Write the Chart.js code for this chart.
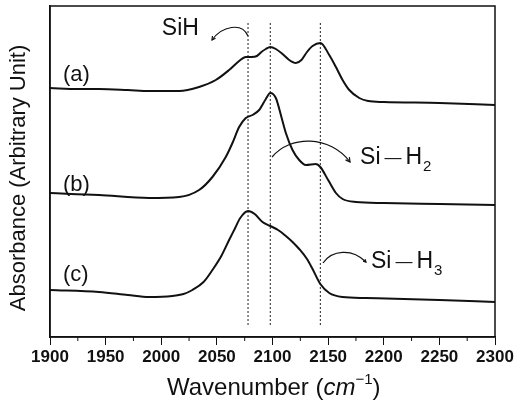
<!DOCTYPE html>
<html><head><meta charset="utf-8">
<script src="https://cdn.jsdelivr.net/npm/chart.js@4.4.0/dist/chart.umd.min.js"></script>
<style>html,body{margin:0;padding:0;background:#fff;}#wrap{width:518px;height:405px;position:relative;}</style>
</head><body><div id="wrap"><canvas id="c"></canvas></div>
<script>
// ---- data (wavenumber in cm^-1, absorbance in arbitrary units, curves offset) ----
const waveA = [1900,1925,1944,1970,1989,2016,2034,2049,2061,2070,2076,2081,2086,2090,2094,2098,2103,2109,2115,2121,2126,2131,2136,2143,2151,2157,2163,2169,2178,2186,2200,2250,2300];
const absA  = [2.49,2.48,2.48,2.47,2.46,2.46,2.50,2.57,2.67,2.76,2.80,2.80,2.81,2.85,2.88,2.90,2.88,2.83,2.77,2.74,2.77,2.85,2.91,2.94,2.82,2.70,2.57,2.47,2.39,2.36,2.35,2.34,2.32];
const waveB = [1900,1944,1989,2016,2034,2046,2058,2064,2070,2076,2082,2088,2094,2098,2103,2108,2112,2118,2124,2130,2139,2143,2150,2157,2163,2175,2200,2250,2300];
const absB  = [1.44,1.42,1.39,1.40,1.47,1.60,1.80,1.94,2.10,2.19,2.22,2.27,2.38,2.44,2.39,2.20,2.04,1.87,1.77,1.72,1.73,1.70,1.57,1.44,1.38,1.35,1.34,1.33,1.32];
const waveC = [1900,1944,1970,1989,2010,2020,2028,2038,2046,2054,2061,2066,2071,2078,2084,2091,2098,2105,2112,2118,2124,2131,2136,2143,2151,2163,2184,2250,2300];
const absC  = [0.47,0.45,0.42,0.40,0.41,0.43,0.47,0.55,0.67,0.81,0.97,1.08,1.19,1.26,1.23,1.15,1.11,1.07,1.01,0.95,0.88,0.78,0.68,0.53,0.44,0.40,0.39,0.37,0.35];
const curveLabels = ['(a)','(b)','(c)'];
const peakWaves = [2078, 2098, 2143];       // dotted guide lines
const guideSpan = [0.12, 3.15];             // vertical extent of guides
const xTicks = [1900,1950,2000,2050,2100,2150,2200,2250,2300];
const bandNames = ['SiH','Si','Si'];
const bandSubs = ['','2','3'];

// ---- build datasets ----
const toPts = (xs, ys) => xs.map((x,i)=>({x, y: ys[i]}));
const curveStyle = {borderColor:'#111', borderWidth:2, pointRadius:0, fill:false, cubicInterpolationMode:'monotone'};
const datasets = [
  Object.assign({data: toPts(waveA, absA)}, curveStyle),
  Object.assign({data: toPts(waveB, absB)}, curveStyle),
  Object.assign({data: toPts(waveC, absC)}, curveStyle),
];
peakWaves.forEach(w => datasets.push({
  data: [{x:w, y:guideSpan[0]},{x:w, y:guideSpan[1]}],
  borderColor:'#222', borderWidth:1, borderDash:[2,2], pointRadius:0, fill:false, tension:0
}));

// annotation anchors (data coordinates)
const labelPos = [[1911.7,2.62],[1911.7,1.52],[1911.7,0.62]];
const bandPos = [[2000.5,3.08],[2178.7,1.79],[2188.5,0.75]];
const arrows = [
  {p:[[2045.6,2.97],[2054.6,3.11],[2072.6,3.15],[2078,3.01]], head:'start', L:4},
  {p:[[2099.6,1.80],[2115.7,2.02],[2151.7,2.02],[2169.7,1.75]], head:'end', L:5},
  {p:[[2145.4,0.74],[2153.5,0.87],[2171.5,0.89],[2184,0.75]], head:'end', L:3}
];

const FONT = '"Liberation Sans", Arial, Helvetica, sans-serif';

const decor = {
  id:'decor',
  afterDraw(chart){
    const ctx = chart.ctx, a = chart.chartArea, sx = chart.scales.x, sy = chart.scales.y;
    const P = (d)=>[sx.getPixelForValue(d[0]), sy.getPixelForValue(d[1])];
    ctx.save();
    // frame
    ctx.strokeStyle = '#111'; ctx.lineWidth = 1.5;
    ctx.strokeRect(a.left, a.top, a.right-a.left, a.bottom-a.top);
    // minor ticks
    ctx.lineWidth = 1;
    for (let v = 1925; v < 2300; v += 50) {
      const x = sx.getPixelForValue(v);
      ctx.beginPath(); ctx.moveTo(x, a.bottom); ctx.lineTo(x, a.bottom+4); ctx.stroke();
    }
    ctx.fillStyle = '#111';
    // curve labels
    ctx.font = '22px ' + FONT; ctx.textBaseline = 'middle'; ctx.textAlign = 'left';
    curveLabels.forEach((t,i)=>{ const p = P(labelPos[i]); ctx.fillText(t, p[0], p[1]); });
    // band names
    bandNames.forEach((t,i)=>{
      const p = P(bandPos[i]);
      let x = p[0];
      ctx.font = '23px ' + FONT;
      if (t === 'SiH') { ctx.fillText(t, x, p[1]); return; }
      ctx.fillText('Si', x, p[1]); x += ctx.measureText('Si').width + 4;
      ctx.font = '17px ' + FONT; ctx.fillText('\u2014', x, p[1]); x += ctx.measureText('\u2014').width + 4;
      ctx.font = '23px ' + FONT; ctx.fillText('H', x, p[1]); x += ctx.measureText('H').width + 1;
      ctx.font = '15px ' + FONT; ctx.fillText(bandSubs[i], x, p[1]+9);
    });
    // arrows
    ctx.lineWidth = 1.2; ctx.strokeStyle = '#111';
    arrows.forEach(ar=>{
      const q = ar.p.map(P);
      ctx.beginPath(); ctx.moveTo(q[0][0],q[0][1]);
      ctx.bezierCurveTo(q[1][0],q[1][1],q[2][0],q[2][1],q[3][0],q[3][1]); ctx.stroke();
      let tip, from;
      if (ar.head === 'end') { tip = q[3]; from = q[2]; } else { tip = q[0]; from = q[1]; }
      const ang = Math.atan2(tip[1]-from[1], tip[0]-from[0]);
      const L = ar.L;
      ctx.beginPath();
      ctx.moveTo(tip[0] - L*Math.cos(ang-0.5), tip[1] - L*Math.sin(ang-0.5));
      ctx.lineTo(tip[0], tip[1]);
      ctx.lineTo(tip[0] - L*Math.cos(ang+0.5), tip[1] - L*Math.sin(ang+0.5));
      ctx.stroke();
    });
    // y title
    ctx.save();
    ctx.translate(19, 178);
    ctx.rotate(-Math.PI/2);
    ctx.font = '22px ' + FONT; ctx.textAlign = 'center'; ctx.textBaseline = 'middle';
    ctx.fillText('Absorbance (Arbitrary Unit)', 0, 0);
    ctx.restore();
    // x title
    const parts = [['Wavenumber (', '24px '], ['cm', 'italic 24px '], ['\u22121', '15px ', -8], [')', '24px ']];
    ctx.textAlign = 'left'; ctx.textBaseline = 'middle';
    let x = 167;
    const yT = 388;
    parts.forEach(pt=>{ ctx.font = pt[1]+FONT; ctx.fillText(pt[0], x, yT + (pt[2]||0)); x += ctx.measureText(pt[0]).width; });
    ctx.restore();
  }
};

new Chart(document.getElementById('c'), {
  type:'line',
  data:{datasets},
  options:{
    responsive:true, maintainAspectRatio:false, animation:false,
    layout:{padding:{top:6, right:23, left:0, bottom:0}},
    plugins:{legend:{display:false}, tooltip:{enabled:false}},
    scales:{
      x:{type:'linear', min:1900, max:2300,
        afterBuildTicks(s){ s.ticks = xTicks.map(v=>({value:v})); },
        afterFit(s){ s.height = 68; },
        ticks:{color:'#111', font:{family:FONT, size:17, weight:'bold'}, padding:2, maxRotation:0, autoSkip:false,
          callback:(v)=>String(v)},
        grid:{drawOnChartArea:false, drawTicks:true, tickLength:8, color:'#111', lineWidth:1},
        border:{display:true, color:'#111', width:1.5}
      },
      y:{type:'linear', min:0, max:3.31,
        afterFit(s){ s.width = 50; },
        ticks:{display:false},
        grid:{display:false},
        border:{display:true, color:'#111', width:1.5}
      }
    }
  },
  plugins:[decor]
});
</script></body></html>
